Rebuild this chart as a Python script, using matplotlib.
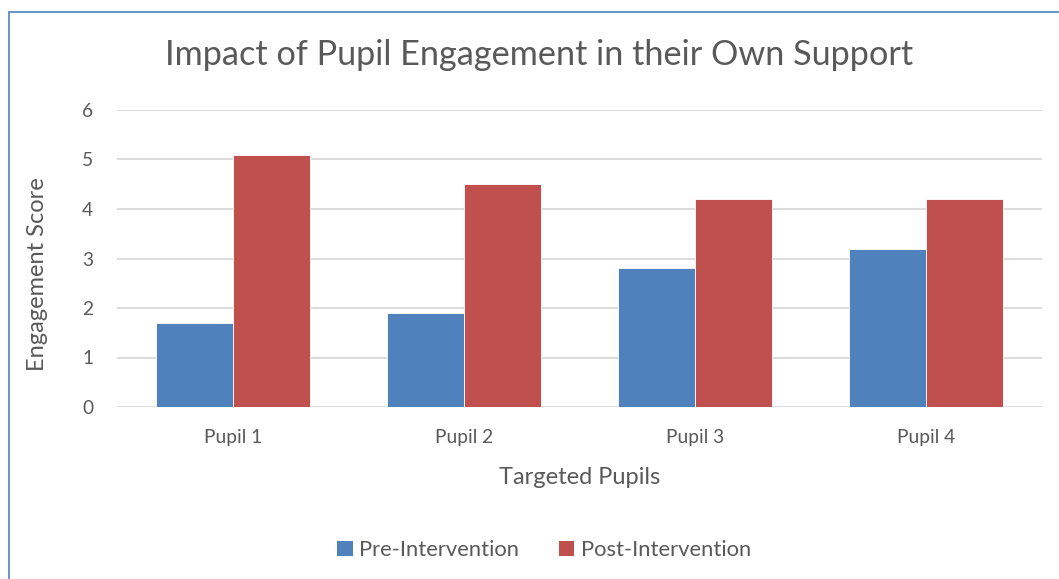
import matplotlib
matplotlib.use("Agg")
import matplotlib.pyplot as plt
from matplotlib.patches import Rectangle, Patch
import numpy as np

categories = ["Pupil 1", "Pupil 2", "Pupil 3", "Pupil 4"]
pre_values = [1.7, 1.9, 2.8, 3.2]
post_values = [5.1, 4.5, 4.2, 4.2]
series_names = ["Pre-Intervention", "Post-Intervention"]
yticks = [0, 1, 2, 3, 4, 5, 6]

BLUE = "#4F81BD"
RED = "#C0504D"
GREY = "#595959"
GRID = "#D9D9D9"

plt.rcParams['font.family'] = ['Lato', 'DejaVu Sans']

W, H = 1059, 579
fig = plt.figure(figsize=(W / 100, H / 100), dpi=100)
fig.patch.set_facecolor("white")

# plot area in pixels: x 117..1042, y 110..407
ax = fig.add_axes([117 / W, 1 - 407 / H, (1042 - 117) / W, (407 - 110) / H])

x = np.arange(len(categories))
bw = 1 / 3
ax.bar(x - bw / 2, pre_values, bw, color=BLUE, edgecolor="white", linewidth=0.6, zorder=3)
ax.bar(x + bw / 2, post_values, bw, color=RED, edgecolor="white", linewidth=0.6, zorder=3)

ax.set_xlim(-0.5, len(categories) - 0.5)
ax.set_ylim(0, 6)
ax.set_yticks(yticks)
ax.set_yticklabels([str(v) for v in yticks])
ax.set_xticks(x)
ax.set_xticklabels(categories)
ax.tick_params(axis="both", length=0, labelsize=13.8, colors=GREY)
ax.tick_params(axis="y", pad=17)
ax.tick_params(axis="x", pad=16)
for s in ax.spines.values():
    s.set_visible(False)
ax.yaxis.grid(True, color=GRID, linewidth=1.3, zorder=0)
ax.set_axisbelow(True)

fig.text(539 / W, 1 - 55 / H, "Impact of Pupil Engagement in their Own Support",
         ha="center", va="center", fontsize=24.7, color=GREY)
fig.text(38 / W, 1 - 274 / H, "Engagement Score", rotation=90,
         ha="center", va="center", fontsize=17, color=GREY)
fig.text(580 / W, 1 - 478 / H, "Targeted Pupils",
         ha="center", va="center", fontsize=17, color=GREY)

handles = [Patch(facecolor=BLUE, label=series_names[0]),
           Patch(facecolor=RED, label=series_names[1])]
leg = fig.legend(handles=handles, loc="center", bbox_to_anchor=(544 / W, 1 - 550 / H),
                 ncol=2, frameon=False, fontsize=15.8, handlelength=0.7, handleheight=0.7,
                 handletextpad=0.3, columnspacing=1.8)
for t in leg.get_texts():
    t.set_color(GREY)

border = Rectangle((8.5 / W, -0.1), 1.2, 1 - 11.5 / H + 0.1, transform=fig.transFigure,
                   fill=False, edgecolor=BLUE, linewidth=1.2)
fig.patches.append(border)

fig.savefig("out.png", dpi=100, facecolor="white")
